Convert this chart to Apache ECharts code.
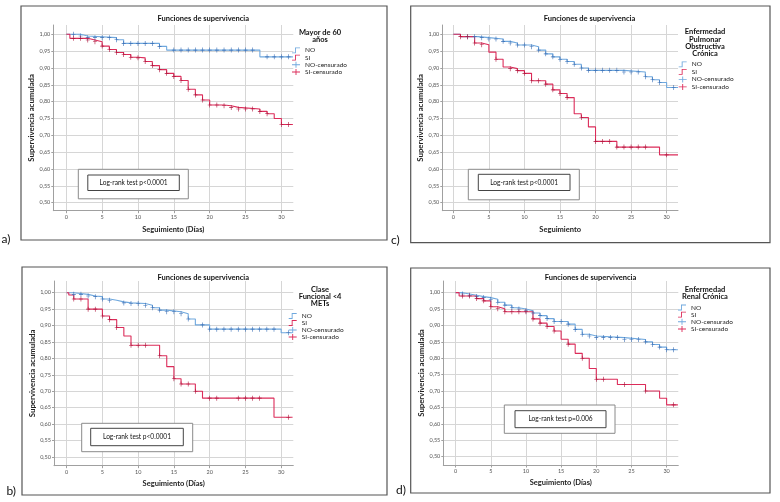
<!DOCTYPE html>
<html><head><meta charset="utf-8">
<script src="https://cdn.jsdelivr.net/npm/echarts@6/dist/echarts.min.js"></script>
<style>html,body{margin:0;padding:0;background:#fff}#c{width:780px;height:502px}</style>
</head><body><div id="c"></div>
<script>
// ---------- data ----------
const xTicks = [0, 5, 10, 15, 20, 25, 30];
const yTicks = [0.50, 0.55, 0.60, 0.65, 0.70, 0.75, 0.80, 0.85, 0.90, 0.95, 1.00];
const followUpEnd = 31.6;
const seriesNames = ['NO', 'SI', 'NO-censurado', 'SI-censurado'];

// a) Mayor de 60 años  [day, survival after step]
const aNoSteps = [[0,1.0],[2,0.995],[3,0.99],[7,0.984],[8,0.973],[13,0.964],[14,0.953],[27,0.933]];
const aNoCens = [1,2,3,4,5,6,7,8,9,10,11,12,13,15,16,17,18,19,20,21,22,23,24,25,26,28,29,30,31];
const aSiSteps = [[0,1.0],[0.5,0.988],[3,0.983],[4,0.978],[5,0.965],[6,0.955],[7,0.946],[8,0.94],[9,0.932],[10,0.93],[11,0.919],[12,0.907],[13,0.895],[14,0.884],[15,0.875],[16,0.863],[17,0.837],[18,0.82],[19,0.805],[20,0.79],[22,0.788],[23,0.783],[24,0.778],[27,0.771],[28,0.764],[29,0.75],[30,0.732]];
const aSiCens = [1,2,3,4,5,6,7,8,9,10,11,12,13,14,15,16,17,18,19,20,21,22,23,24,25,26,27,28,30,31];

// c) EPOC
const cNoSteps = [[0,1.0],[1,0.993],[3.5,0.99],[5,0.986],[7,0.979],[8,0.974],[9,0.968],[11,0.963],[12,0.953],[13,0.942],[14,0.933],[15,0.926],[16,0.919],[17,0.911],[18,0.9],[19,0.893],[24,0.888],[27,0.874],[28,0.865],[29,0.857],[30,0.842]];
const cNoCens = [2,3,4,5,6,7,8,9,10,11,12,13,14,15,16,17,18,19,20,21,22,23,24,25,26,27,28,29,31];
const cSiSteps = [[0,1.0],[1,0.993],[3,0.974],[4,0.969],[5,0.947],[6,0.926],[7,0.903],[8,0.898],[9,0.892],[10,0.884],[11,0.862],[13,0.852],[14,0.835],[15,0.824],[16,0.812],[17,0.764],[18,0.753],[19,0.725],[20,0.682],[23,0.665],[29,0.642]];
const cSiCens = [1,2,3,4,6,8,9,10,11,12,13,14,15,16,18,20,21,22,23,24,25,26,27,30];

// b) Clase funcional <4 METs
const bNoSteps = [[0,1.0],[1,0.995],[3,0.99],[4,0.988],[5,0.981],[6,0.977],[7,0.972],[8,0.969],[9,0.967],[11,0.962],[12,0.954],[13,0.947],[14,0.942],[16,0.936],[17,0.92],[18,0.902],[20,0.889],[30,0.878]];
const bNoCens = [1,2,3,4,5,6,8,9,10,11,12,13,14,15,16,17,19,20,21,22,23,24,25,26,27,28,29,31];
const bSiSteps = [[0,1.0],[0.3,0.993],[1,0.981],[3,0.95],[5,0.929],[6,0.918],[7,0.894],[8,0.868],[9,0.84],[13,0.808],[14,0.775],[15,0.738],[16,0.722],[18,0.70],[19,0.679],[29,0.621]];
const bSiCens = [1,2,3,4,5,6,7,9,10,11,13,15,16,17,18,20,21,24,25,26,27,31];

// d) Enfermedad renal crónica
const dNoSteps = [[0,1.0],[1,0.996],[2,0.992],[3,0.988],[4,0.985],[5,0.98],[6,0.971],[7,0.962],[8,0.954],[9,0.95],[10,0.945],[11,0.938],[12,0.93],[13,0.921],[14,0.912],[16,0.904],[17,0.888],[18,0.873],[19,0.868],[20,0.863],[24,0.857],[27,0.85],[28,0.842],[29,0.834],[30,0.826]];
const dNoCens = [1,2,3,4,5,6,7,8,9,10,11,12,13,14,15,16,17,18,19,20,21,22,23,24,25,26,27,28,29,30,31];
const dSiSteps = [[0,1.0],[0.5,0.99],[3,0.982],[4,0.975],[5,0.957],[6,0.951],[7,0.942],[11,0.92],[12,0.907],[13,0.897],[14,0.883],[15,0.858],[16,0.843],[17,0.815],[18,0.80],[19,0.769],[20,0.736],[23,0.72],[27,0.70],[29,0.678],[30,0.658]];
const dSiCens = [1,2,3,4,5,6,7,8,9,10,11,12,13,14,16,18,20,21,24,27,31];

// ---------- styling / layout ----------
const FONT = 'Lato';
const BLUE = '#6fa8de', BLUE_D = '#3a6fb6', RED = '#dc2c5a', RED_D = '#b0153c';
const plusSym = 'path://M0,4.4L10,4.4L10,5.6L0,5.6Z M4.25,0L5.75,0L5.75,10L4.25,10Z';
const stepIcon = 'path://M0,5L3,5L3,0L8,0L8,0.9L3.9,0.9L3.9,5.9L0,5.9Z';
const crossIcon = 'path://M0,2.55L8,2.55L8,3.45L0,3.45Z M3.55,0L4.45,0L4.45,6L3.55,6Z';

const panels = [
  { no: aNoSteps, noC: aNoCens, si: aSiSteps, siC: aSiCens,
    grid: {left: 53.3, top: 25, width: 240, height: 185.7}, x: [-1.81, 31.66], y: [0.4762, 1.0276],
    xName: 'Seguimiento (Días)', xGap: 15, box: [21, 6, 366, 234], title: [203.3, 18.5],
    head: ['Mayor de 60', 'años'], headPos: [320, 32.2], legend: [292, 46.9, 0.2],
    test: 'Log-rank test p<0.0001', outer: [78.3, 169.3, 110, 29.5], inner: [87.8, 175, 91.5, 15.5],
    letter: ['a)', 1.5, 239] },
  { no: cNoSteps, noC: cNoCens, si: cSiSteps, siC: cSiCens,
    grid: {left: 442.3, top: 25, width: 235.7, height: 185.7}, x: [-1.55, 31.6], y: [0.4762, 1.0276],
    xName: 'Seguimiento', xGap: 14.5, box: [410.7, 6, 359.3, 236.7], title: [589.5, 19],
    head: ['Enfermedad', 'Pulmonar', 'Obstructiva', 'Crónica'], headPos: [705, 31.8], legend: [678.7, 60.9, 0.5],
    test: 'Log-rank test p<0.0001', outer: [468.3, 169.3, 111, 30.5], inner: [478.3, 174.3, 91.7, 16.2],
    letter: ['c)', 391, 240] },
  { no: bNoSteps, noC: bNoCens, si: bSiSteps, siC: bSiCens,
    grid: {left: 54, top: 281, width: 239.3, height: 184.7}, x: [-1.77, 31.7], y: [0.4735, 1.0356],
    xName: 'Seguimiento (Días)', xGap: 14, box: [22, 267, 365, 228], title: [203.3, 277.8],
    head: ['Clase', 'Funcional <4', 'METs'], headPos: [320, 289.3], legend: [288.7, 312.5, 0],
    test: 'Log-rank test p<0.0001', outer: [81.7, 423.3, 111, 28.4], inner: [90.7, 428.3, 92.6, 17.4],
    letter: ['b)', 6.5, 491] },
  { no: dNoSteps, noC: dNoCens, si: dSiSteps, siC: dSiCens,
    grid: {left: 443.3, top: 281, width: 235, height: 184}, x: [-1.75, 31.66], y: [0.4745, 1.0356],
    xName: 'Seguimiento (Días)', xGap: 14, box: [410.7, 268, 359.3, 225], title: [590.5, 277.8],
    head: ['Enfermedad', 'Renal Crónica'], headPos: [705, 289.3], legend: [678, 304, 0.15],
    test: 'Log-rank test p=0.006', outer: [504.3, 405, 110.7, 28.3], inner: [515, 410.7, 91, 17],
    letter: ['d)', 396, 490] }
];

function lineData(steps) {
  return steps.concat([[followUpEnd, steps[steps.length - 1][1]]]);
}
function survivalAt(steps, t) {
  let v = steps[0][1];
  for (const s of steps) { if (s[0] <= t) v = s[1]; }
  return v;
}
function censorData(steps, days) {
  return days.map(d => [d, survivalAt(steps, d)]);
}
const fmtY = v => v.toFixed(2).replace('.', ',');

const option = {
  animation: false,
  backgroundColor: '#fff',
  textStyle: { fontFamily: FONT },
  grid: [], xAxis: [], yAxis: [], series: [], legend: [], graphic: []
};

const axisLineStyle = { color: '#a0a0a0', width: 1 };
const splitStyle = { color: '#d6d6d6', width: 1 };

panels.forEach((p, i) => {
  option.grid.push(Object.assign({ containLabel: false }, p.grid));
  option.xAxis.push({
    gridIndex: i, type: 'value', min: p.x[0], max: p.x[1],
    axisLine: { show: true, onZero: false, lineStyle: axisLineStyle },
    axisTick: { show: true, length: 2.5, customValues: xTicks, lineStyle: axisLineStyle },
    axisLabel: { customValues: xTicks, fontSize: 5.5, color: '#555', margin: 3.5, fontFamily: FONT },
    splitLine: { show: true, lineStyle: splitStyle },
    name: p.xName, nameLocation: 'middle', nameGap: p.xGap,
    nameTextStyle: { fontSize: 7.5, fontWeight: 'bold', color: '#222', fontFamily: FONT }
  });
  option.yAxis.push({
    gridIndex: i, type: 'value', min: p.y[0], max: p.y[1],
    axisLine: { show: true, onZero: false, lineStyle: axisLineStyle },
    axisTick: { show: true, length: 2, customValues: yTicks, lineStyle: axisLineStyle },
    axisLabel: { customValues: yTicks, formatter: fmtY, fontSize: 5.5, color: '#555', margin: 3, fontFamily: FONT },
    splitLine: { show: true, lineStyle: splitStyle },
    name: 'Supervivencia acumulada', nameLocation: 'middle', nameGap: 15,
    nameTextStyle: { fontSize: 7.8, fontWeight: 'bold', color: '#222', fontFamily: FONT }
  });
  option.series.push(
    { type: 'line', name: 'NO', xAxisIndex: i, yAxisIndex: i, step: 'end', data: lineData(p.no),
      symbol: 'none', lineStyle: { color: BLUE, width: 1.1 }, itemStyle: { color: BLUE }, z: 2 },
    { type: 'line', name: 'SI', xAxisIndex: i, yAxisIndex: i, step: 'end', data: lineData(p.si),
      symbol: 'none', lineStyle: { color: RED, width: 1.1 }, itemStyle: { color: RED }, z: 3 },
    { type: 'scatter', name: 'NO-censurado', xAxisIndex: i, yAxisIndex: i, data: censorData(p.no, p.noC),
      symbol: plusSym, symbolSize: [4, 5], itemStyle: { color: BLUE_D, opacity: 1 }, z: 4 },
    { type: 'scatter', name: 'SI-censurado', xAxisIndex: i, yAxisIndex: i, data: censorData(p.si, p.siC),
      symbol: plusSym, symbolSize: [4, 5], itemStyle: { color: RED_D, opacity: 1 }, z: 5 }
  );
  option.legend.push({
    left: p.legend[0], top: p.legend[1], orient: 'vertical', padding: 0,
    itemWidth: 8, itemHeight: 6, itemGap: p.legend[2], selectedMode: false,
    textStyle: { fontSize: 6.5, color: '#222', fontFamily: FONT, lineHeight: 6 },
    data: [
      { name: 'NO', icon: stepIcon, itemStyle: { color: BLUE } },
      { name: 'SI', icon: stepIcon, itemStyle: { color: RED } },
      { name: 'NO-censurado', icon: crossIcon, itemStyle: { color: BLUE } },
      { name: 'SI-censurado', icon: crossIcon, itemStyle: { color: RED } }
    ]
  });
  // panel frame
  option.graphic.push({ type: 'rect', silent: true, z: 1,
    shape: { x: p.box[0], y: p.box[1], width: p.box[2], height: p.box[3] },
    style: { fill: 'none', stroke: '#555', lineWidth: 1.2 } });
  // title
  option.graphic.push({ type: 'text', silent: true, z: 10, x: p.title[0], y: p.title[1],
    style: { text: 'Funciones de supervivencia', font: 'bold 7.5px ' + FONT, fill: '#111',
      align: 'center', verticalAlign: 'middle', textAlign: 'center', textVerticalAlign: 'middle' } });
  // legend header
  option.graphic.push({ type: 'text', silent: true, z: 10, x: p.headPos[0], y: p.headPos[1] - 3.8,
    style: { text: p.head.join('\n'), font: 'bold 7.5px ' + FONT, lineHeight: 7.4, fill: '#111',
      align: 'center', verticalAlign: 'top', textAlign: 'center', textVerticalAlign: 'top' } });
  // log-rank box
  option.graphic.push({ type: 'rect', silent: true, z: 100,
    shape: { x: p.outer[0], y: p.outer[1], width: p.outer[2], height: p.outer[3] },
    style: { fill: '#fff', stroke: '#8a8a8a', lineWidth: 1 } });
  option.graphic.push({ type: 'rect', silent: true, z: 101,
    shape: { x: p.inner[0], y: p.inner[1], width: p.inner[2], height: p.inner[3] },
    style: { fill: '#fff', stroke: '#444', lineWidth: 1 } });
  option.graphic.push({ type: 'text', silent: true, z: 102,
    x: p.inner[0] + p.inner[2] / 2, y: p.inner[1] + p.inner[3] / 2,
    style: { text: p.test, font: '6.6px ' + FONT, fill: '#111',
      align: 'center', verticalAlign: 'middle', textAlign: 'center', textVerticalAlign: 'middle' } });
  // panel letter
  option.graphic.push({ type: 'text', silent: true, z: 10, x: p.letter[1], y: p.letter[2],
    style: { text: p.letter[0], font: '12px ' + FONT, fill: '#111',
      align: 'left', verticalAlign: 'middle', textAlign: 'left', textVerticalAlign: 'middle' } });
});

const chart = echarts.init(document.getElementById('c'), null, { renderer: 'canvas' });
chart.setOption(option);
</script>
</body></html>
